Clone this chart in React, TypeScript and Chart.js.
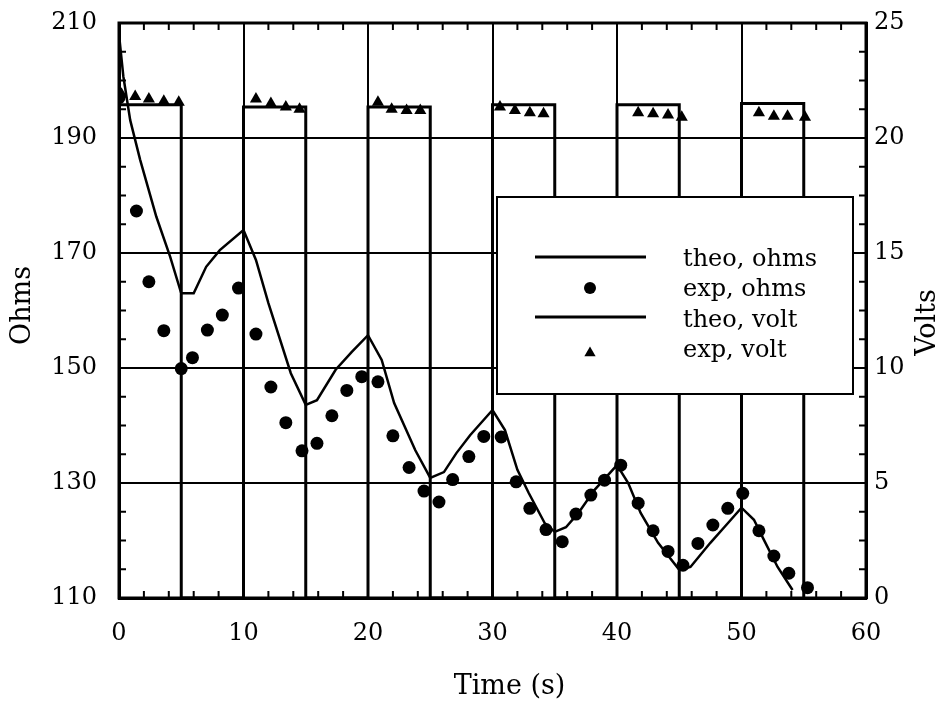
import React, { useEffect, useRef } from "react";
import { Chart, registerables } from "chart.js";

Chart.register(...registerables);

// ---- data ----
const theoOhmTime = [0, 0.35, 0.9, 1.7, 3.0, 4.1, 5.0, 6.0, 7.0, 8.1, 10.0, 11.0, 12.0, 13.8, 15.0, 15.9, 17.4, 18.7, 20.0, 21.1, 22.1, 23.8, 25.0, 26.1, 27.1, 28.2, 30.0, 31.0, 32.0, 32.9, 34.2, 35.0, 35.9, 36.9, 38.2, 40.0, 40.9, 41.9, 43.3, 45.0, 45.9, 47.5, 48.9, 50.0, 51.0, 51.8, 52.9, 54.1];
const theoOhmValue = [208, 200.7, 193.1, 186.2, 176.3, 169.4, 163.0, 163.0, 167.6, 170.5, 174.0, 168.8, 161.3, 149.1, 143.6, 144.4, 149.7, 152.8, 155.7, 151.4, 143.9, 135.7, 130.9, 131.9, 135.2, 138.3, 142.7, 139.2, 132.3, 128.3, 123.0, 121.5, 122.3, 124.8, 128.8, 133.1, 130.0, 124.8, 119.6, 114.9, 115.4, 119.6, 123.0, 125.7, 123.6, 120.1, 115.4, 111.4];

const expOhmTime = [0, 1.4, 2.4, 3.6, 5.0, 5.9, 7.1, 8.3, 9.6, 11.0, 12.2, 13.4, 14.7, 15.9, 17.1, 18.3, 19.5, 20.8, 22.0, 23.3, 24.5, 25.7, 26.8, 28.1, 29.3, 30.7, 31.9, 33.0, 34.3, 35.6, 36.7, 37.9, 39.0, 40.3, 41.7, 42.9, 44.1, 45.3, 46.5, 47.7, 48.9, 50.1, 51.4, 52.6, 53.8, 55.3];
const expOhmValue = [197, 177.3, 165.0, 156.5, 149.9, 151.8, 156.6, 159.2, 163.9, 155.9, 146.7, 140.5, 135.6, 136.9, 141.7, 146.1, 148.5, 147.6, 138.2, 132.7, 128.6, 126.7, 130.6, 134.6, 138.1, 138.0, 130.2, 125.6, 121.9, 119.8, 124.6, 127.9, 130.5, 133.1, 126.5, 121.7, 118.1, 115.7, 119.5, 122.7, 125.6, 128.2, 121.7, 117.3, 114.3, 111.8];

const theoVoltTime = [0, 5, 5, 10, 10, 15, 15, 20, 20, 25, 25, 30, 30, 35, 35, 40, 40, 45, 45, 50, 50, 55, 55];
const theoVoltValue = [21.45, 21.45, 0, 0, 21.35, 21.35, 0, 0, 21.35, 21.35, 0, 0, 21.45, 21.45, 0, 0, 21.45, 21.45, 0, 0, 21.5, 21.5, 0];

const expVoltTime = [0.2, 1.3, 2.4, 3.6, 4.8, 11.0, 12.2, 13.4, 14.5, 20.8, 21.9, 23.1, 24.2, 30.6, 31.8, 33.0, 34.1, 41.7, 42.9, 44.1, 45.2, 51.4, 52.6, 53.7, 55.1];
const expVoltValue = [21.9, 21.8, 21.7, 21.6, 21.55, 21.7, 21.5, 21.35, 21.25, 21.55, 21.25, 21.2, 21.2, 21.35, 21.2, 21.1, 21.05, 21.1, 21.05, 21.0, 20.9, 21.1, 20.95, 20.95, 20.9];

const timeTicks = [0, 10, 20, 30, 40, 50, 60];
const ohmTicks = [110, 130, 150, 170, 190, 210];
const voltTicks = [0, 5, 10, 15, 20, 25];

const legendLabels = ["theo, ohms", "exp, ohms", "theo, volt", "exp, volt"];
const xTitle = "Time (s)";
const leftTitle = "Ohms";
const rightTitle = "Volts";

const FONT_FAMILY = "'DejaVu Serif', 'Liberation Serif', serif";

const pts = (xs: number[], ys: number[]) => xs.map((x, i) => ({ x, y: ys[i] }));

const zeroPad = (s: any) => {
  s.paddingTop = 0;
  s.paddingBottom = 0;
  s.paddingLeft = 0;
  s.paddingRight = 0;
};

const decorPlugin = {
  id: "decor",
  afterDraw(chart: any) {
    const ctx = chart.ctx as CanvasRenderingContext2D;
    const ca = chart.chartArea;
    const xs = chart.scales.x;
    const ys = chart.scales.y;
    const y1 = chart.scales.y1;
    ctx.save();
    ctx.strokeStyle = "#000";
    ctx.fillStyle = "#000";

    // minor inward ticks
    ctx.lineWidth = 2;
    const len = 7;
    ctx.beginPath();
    for (let v = 0; v <= 60; v += 2) {
      if (v % 10 === 0) continue;
      const px = xs.getPixelForValue(v);
      ctx.moveTo(px, ca.bottom);
      ctx.lineTo(px, ca.bottom - len);
      ctx.moveTo(px, ca.top);
      ctx.lineTo(px, ca.top + len);
    }
    for (let v = 110; v <= 210; v += 5) {
      if ((v - 110) % 20 === 0) continue;
      const py = ys.getPixelForValue(v);
      ctx.moveTo(ca.left, py);
      ctx.lineTo(ca.left + len, py);
    }
    for (let v = 0; v <= 25; v += 1.25) {
      if (v % 5 === 0) continue;
      const py = y1.getPixelForValue(v);
      ctx.moveTo(ca.right, py);
      ctx.lineTo(ca.right - len, py);
    }
    ctx.stroke();

    // frame
    ctx.lineWidth = 3;
    ctx.strokeRect(ca.left, ca.top, ca.right - ca.left, ca.bottom - ca.top);

    // legend box
    const bx = ca.left + 378;
    const by = ca.top + 174;
    const bw = 356;
    const bh = 197;
    ctx.fillStyle = "#fff";
    ctx.fillRect(bx, by, bw, bh);
    ctx.lineWidth = 2;
    ctx.strokeRect(bx, by, bw, bh);
    ctx.fillStyle = "#000";
    // samples
    ctx.lineWidth = 3;
    ctx.beginPath();
    ctx.moveTo(bx + 38, by + 60);
    ctx.lineTo(bx + 149, by + 60);
    ctx.moveTo(bx + 38, by + 120);
    ctx.lineTo(bx + 149, by + 120);
    ctx.stroke();
    ctx.beginPath();
    ctx.arc(bx + 93, by + 91, 6, 0, Math.PI * 2);
    ctx.fill();
    const tr = 6.5;
    const tcx = bx + 93;
    const tcy = by + 156;
    ctx.beginPath();
    ctx.moveTo(tcx, tcy - tr);
    ctx.lineTo(tcx + tr * 0.866, tcy + tr * 0.5);
    ctx.lineTo(tcx - tr * 0.866, tcy + tr * 0.5);
    ctx.closePath();
    ctx.fill();
    ctx.font = `24px ${FONT_FAMILY}`;
    ctx.textAlign = "left";
    ctx.textBaseline = "alphabetic";
    const baselines = [69, 99, 130, 160];
    legendLabels.forEach((t, i) => ctx.fillText(t, bx + 186, by + baselines[i]));

    // axis titles
    ctx.font = `27px ${FONT_FAMILY}`;
    ctx.textAlign = "center";
    ctx.textBaseline = "middle";
    ctx.fillText(xTitle, (ca.left + ca.right) / 2 + 17, ca.bottom + 89);
    ctx.save();
    ctx.translate(ca.left - 96, (ca.top + ca.bottom) / 2 - 5);
    ctx.rotate(-Math.PI / 2);
    ctx.fillText(leftTitle, 0, 0);
    ctx.restore();
    ctx.save();
    ctx.translate(ca.right + 62, (ca.top + ca.bottom) / 2 + 12);
    ctx.rotate(-Math.PI / 2);
    ctx.fillText(rightTitle, 0, 0);
    ctx.restore();

    ctx.restore();
  },
};

export default function App() {
  const ref = useRef<HTMLCanvasElement | null>(null);

  useEffect(() => {
    if (!ref.current) return;
    const tickFont = { family: FONT_FAMILY, size: 24 };
    const chart = new Chart(ref.current, {
      type: "line",
      data: {
        datasets: [
          {
            label: legendLabels[0],
            data: pts(theoOhmTime, theoOhmValue),
            yAxisID: "y",
            borderColor: "#000",
            borderWidth: 2.5,
            pointRadius: 0,
            tension: 0,
            fill: false,
          },
          {
            label: legendLabels[1],
            data: pts(expOhmTime, expOhmValue),
            yAxisID: "y",
            showLine: false,
            pointStyle: "circle",
            pointRadius: 6.5,
            pointBackgroundColor: "#000",
            pointBorderColor: "#000",
            pointBorderWidth: 0,
          },
          {
            label: legendLabels[2],
            data: pts(theoVoltTime, theoVoltValue),
            yAxisID: "y1",
            borderColor: "#000",
            borderWidth: 3,
            pointRadius: 0,
            tension: 0,
            fill: false,
          },
          {
            label: legendLabels[3],
            data: pts(expVoltTime, expVoltValue),
            yAxisID: "y1",
            showLine: false,
            pointStyle: "triangle",
            pointRadius: 7,
            pointBackgroundColor: "#000",
            pointBorderColor: "#000",
            pointBorderWidth: 0,
          },
        ],
      },
      options: {
        animation: false,
        responsive: false,
        layout: { padding: { top: 23, left: 0, right: 0, bottom: 0 } },
        plugins: { legend: { display: false }, tooltip: { enabled: false } },
        scales: {
          x: {
            type: "linear",
            min: 0,
            max: 60,
            afterBuildTicks: (s: any) => {
              s.ticks = timeTicks.map((v) => ({ value: v }));
            },
            afterFit: (s: any) => {
              s.height = 109;
              zeroPad(s);
            },
            ticks: { font: tickFont, color: "#000", padding: 21, maxRotation: 0, autoSkip: false },
            grid: { color: "#000", lineWidth: 2, drawTicks: false },
            border: { display: true, color: "#000", width: 3 },
          },
          y: {
            type: "linear",
            position: "left",
            min: 110,
            max: 210,
            afterBuildTicks: (s: any) => {
              s.ticks = ohmTicks.map((v) => ({ value: v }));
            },
            afterFit: (s: any) => {
              s.width = 119;
              zeroPad(s);
            },
            ticks: { font: tickFont, color: "#000", padding: 22, autoSkip: false },
            grid: { color: "#000", lineWidth: 2, drawTicks: false },
            border: { display: true, color: "#000", width: 3 },
          },
          y1: {
            type: "linear",
            position: "right",
            min: 0,
            max: 25,
            afterBuildTicks: (s: any) => {
              s.ticks = voltTicks.map((v) => ({ value: v }));
            },
            afterFit: (s: any) => {
              s.width = 81;
              zeroPad(s);
            },
            ticks: { font: tickFont, color: "#000", padding: 8, autoSkip: false },
            grid: { display: false, drawTicks: false },
            border: { display: true, color: "#000", width: 3 },
          },
        },
      },
      plugins: [decorPlugin],
    } as any);
    return () => chart.destroy();
  }, []);

  return (
    <div style={{ position: "absolute", left: 0, top: 0, width: 947, height: 707, background: "#fff" }}>
      <canvas ref={ref} width={947} height={707} style={{ display: "block" }} />
    </div>
  );
}
